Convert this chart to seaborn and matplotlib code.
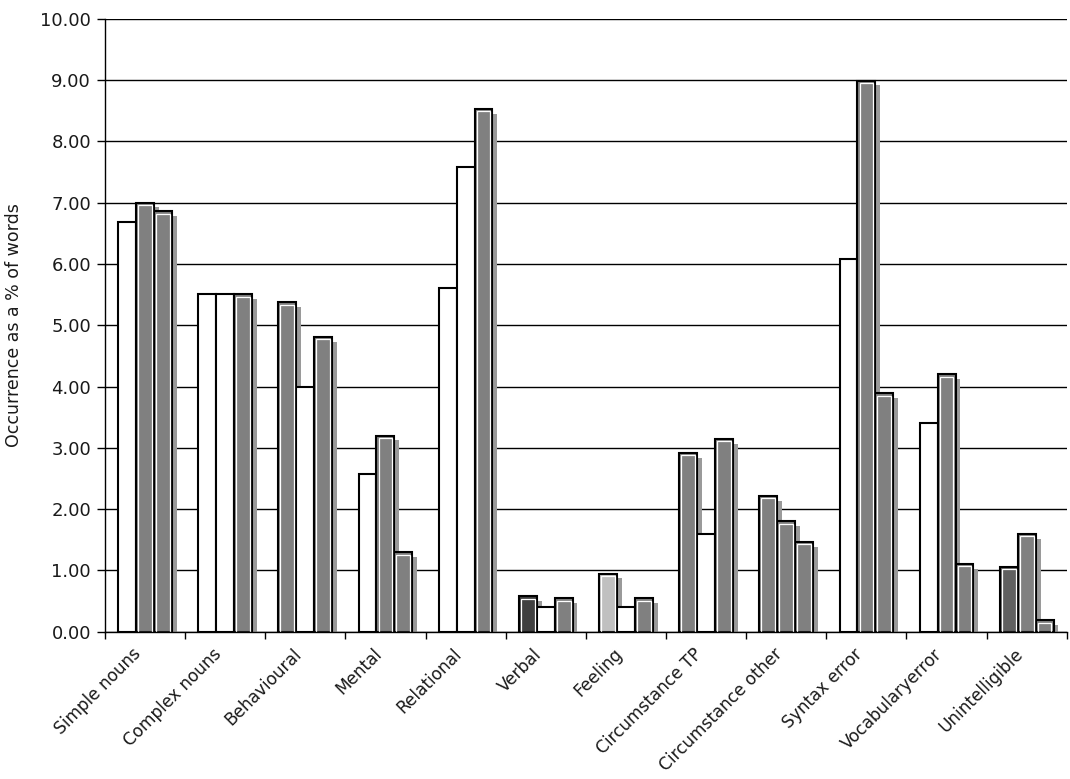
import numpy as np
import pandas as pd
import matplotlib
matplotlib.use("Agg")
import matplotlib.pyplot as plt
import matplotlib.patheffects as pe
import matplotlib.transforms as mtransforms
from matplotlib.patches import Rectangle
from matplotlib.ticker import MultipleLocator, FixedLocator
import seaborn as sns

categories = ["Simple nouns", "Complex nouns", "Behavioural", "Mental", "Relational",
              "Verbal", "Feeling", "Circumstance TP", "Circumstance other",
              "Syntax error", "Vocabularyerror", "Unintelligible"]
series = ["Group 1", "Group 2", "Group 3"]

group1 = [6.68, 5.51, 5.38, 2.58, 5.61, 0.58, 0.95, 2.92, 2.22, 6.08, 3.40, 1.06]
group2 = [7.00, 5.51, 4.00, 3.20, 7.58, 0.40, 0.40, 1.60, 1.80, 8.99, 4.20, 1.60]
group3 = [6.86, 5.51, 4.81, 1.30, 8.53, 0.55, 0.55, 3.15, 1.47, 3.89, 1.11, 0.19]

# fill of each bar (the original shades each bar separately)
W, G = "#ffffff", "#808080"
colors1 = [W, W, G, W, W, "#404040", "#c0c0c0", G, G, W, W, "#606060"]
colors2 = [G, W, W, G, W, W, W, W, G, G, G, G]
colors3 = [G, G, G, G, G, G, G, G, G, G, G, G]

df = pd.DataFrame({
    "Category": categories * 3,
    "Series": [series[0]] * 12 + [series[1]] * 12 + [series[2]] * 12,
    "Value": group1 + group2 + group3,
})

sns.set_style("white")
plt.rcParams["font.family"] = ["DejaVu Sans"]
text_col = "#1a1a1a"

fig = plt.figure(figsize=(10.70, 7.79), dpi=100)
ax = fig.add_axes([0.098, 0.189, 0.899, 0.787])
ax.set_axisbelow(True)
ax.yaxis.grid(True, color="black", linewidth=1.0)

sns.barplot(data=df, x="Category", y="Value", hue="Series", order=categories,
            hue_order=series, width=0.67, gap=0, legend=False, ax=ax,
            linewidth=0, errorbar=None)

all_colors = colors1 + colors2 + colors3
shadow = [pe.SimplePatchShadow(offset=(3.5, -3.5), shadow_rgbFace="#9a9a9a", alpha=1.0),
          pe.Normal()]
for patch, c in zip(ax.patches, all_colors):
    patch.set_facecolor(c)
    patch.set_edgecolor("black")
    patch.set_linewidth(1.5)
    patch.set_alpha(1.0)
    if c != W:
        patch.set_path_effects(shadow)
        # thin white line just inside the outline
        x0, y0 = patch.get_x(), patch.get_y()
        w, h = patch.get_width(), patch.get_height()
        dx, dy = 0.026, 0.042
        ax.add_patch(Rectangle((x0 + dx, y0), w - 2 * dx, h - dy, fill=False,
                               edgecolor="white", linewidth=0.9, zorder=patch.get_zorder() + 0.01))

ax.set_ylim(0, 10)
ax.set_xlim(-0.5, len(categories) - 0.5)
ax.yaxis.set_major_locator(MultipleLocator(1))
ax.yaxis.set_major_formatter(matplotlib.ticker.FormatStrFormatter("%.2f"))
ax.xaxis.set_minor_locator(FixedLocator(np.arange(-0.5, len(categories), 1.0)))
ax.tick_params(axis="y", left=True, length=6, width=1, labelsize=13, color="black",
               labelcolor=text_col, pad=4)
ax.tick_params(axis="x", which="major", bottom=False, length=0, labelsize=12.2,
               labelcolor=text_col, pad=6)
ax.tick_params(axis="x", which="minor", bottom=True, length=5, width=1, color="black")

shift = mtransforms.ScaledTranslation(-13 / 100, -5 / 100, fig.dpi_scale_trans)
for lab in ax.get_xticklabels():
    lab.set_rotation(45)
    lab.set_ha("right")
    lab.set_rotation_mode("anchor")
    lab.set_transform(lab.get_transform() + shift)

ax.set_xlabel("")
ax.set_ylabel("Occurrence as a % of words", fontsize=12.5, labelpad=12, color=text_col)

for s in ["top", "right"]:
    ax.spines[s].set_visible(False)
for s in ["left", "bottom"]:
    ax.spines[s].set_color("black")
    ax.spines[s].set_linewidth(1.0)

fig.savefig("out.png", dpi=100, facecolor="white")
